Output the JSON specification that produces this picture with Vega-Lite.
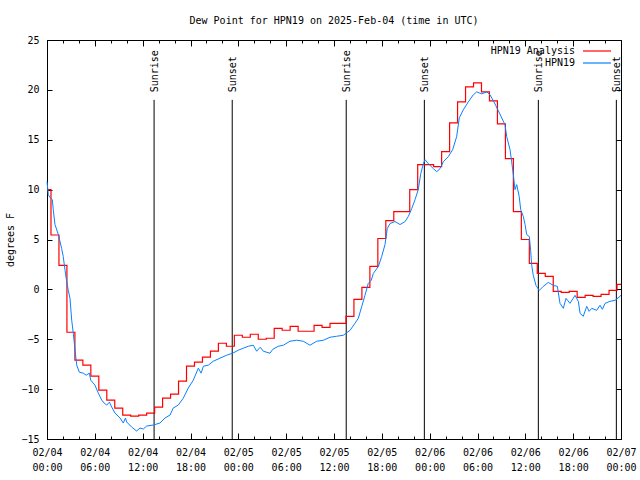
{
  "$schema": "https://vega.github.io/schema/vega-lite/v6.json",
  "width": 574,
  "height": 399,
  "autosize": "none",
  "padding": {"left": 47, "top": 40, "right": 19, "bottom": 41},
  "background": "white",
  "title": {"text": "Dew Point for HPN19 on 2025-Feb-04 (time in UTC)", "font": "DejaVu Sans Mono", "fontSize": 10, "fontWeight": "normal", "color": "black", "anchor": "middle", "offset": 9},
  "config": {
    "view": {"stroke": "black", "strokeWidth": 1},
    "axis": {"domain": false, "grid": false, "tickColor": "black", "tickWidth": 1, "labelFont": "DejaVu Sans Mono", "labelFontSize": 10, "labelColor": "black", "titleFont": "DejaVu Sans Mono", "titleFontSize": 10, "titleFontWeight": "normal", "titleColor": "black", "labelFlush": false, "labelOverlap": false, "labelBound": false}
  },
  "datasets": {
    "analysis": [
      {"t": "2025-02-04T00:00Z", "v": 10.0}, {"t": "2025-02-04T01:00Z", "v": 5.45}, {"t": "2025-02-04T02:00Z", "v": 2.4}, {"t": "2025-02-04T03:00Z", "v": -4.3},
      {"t": "2025-02-04T04:00Z", "v": -7.1}, {"t": "2025-02-04T05:00Z", "v": -7.6}, {"t": "2025-02-04T06:00Z", "v": -8.7}, {"t": "2025-02-04T07:00Z", "v": -10.1},
      {"t": "2025-02-04T08:00Z", "v": -11.1}, {"t": "2025-02-04T09:00Z", "v": -11.9}, {"t": "2025-02-04T10:00Z", "v": -12.6}, {"t": "2025-02-04T11:00Z", "v": -12.7},
      {"t": "2025-02-04T12:00Z", "v": -12.6}, {"t": "2025-02-04T13:00Z", "v": -12.4}, {"t": "2025-02-04T14:00Z", "v": -11.8}, {"t": "2025-02-04T15:00Z", "v": -10.9},
      {"t": "2025-02-04T16:00Z", "v": -10.5}, {"t": "2025-02-04T17:00Z", "v": -9.2}, {"t": "2025-02-04T18:00Z", "v": -7.7}, {"t": "2025-02-04T19:00Z", "v": -7.3},
      {"t": "2025-02-04T20:00Z", "v": -6.8}, {"t": "2025-02-04T21:00Z", "v": -6.2}, {"t": "2025-02-04T22:00Z", "v": -5.4}, {"t": "2025-02-04T23:00Z", "v": -5.7},
      {"t": "2025-02-05T00:00Z", "v": -4.6}, {"t": "2025-02-05T01:00Z", "v": -4.8}, {"t": "2025-02-05T02:00Z", "v": -4.5}, {"t": "2025-02-05T03:00Z", "v": -5.0},
      {"t": "2025-02-05T04:00Z", "v": -4.9}, {"t": "2025-02-05T05:00Z", "v": -3.9}, {"t": "2025-02-05T06:00Z", "v": -4.1}, {"t": "2025-02-05T07:00Z", "v": -3.7},
      {"t": "2025-02-05T08:00Z", "v": -4.2}, {"t": "2025-02-05T09:00Z", "v": -4.2}, {"t": "2025-02-05T10:00Z", "v": -3.6}, {"t": "2025-02-05T11:00Z", "v": -3.8},
      {"t": "2025-02-05T12:00Z", "v": -3.4}, {"t": "2025-02-05T13:00Z", "v": -3.4}, {"t": "2025-02-05T14:00Z", "v": -2.7}, {"t": "2025-02-05T15:00Z", "v": -1.0},
      {"t": "2025-02-05T16:00Z", "v": 0.2}, {"t": "2025-02-05T17:00Z", "v": 2.3}, {"t": "2025-02-05T18:00Z", "v": 5.1}, {"t": "2025-02-05T19:00Z", "v": 6.9},
      {"t": "2025-02-05T20:00Z", "v": 7.8}, {"t": "2025-02-05T21:00Z", "v": 7.8}, {"t": "2025-02-05T22:00Z", "v": 10.0}, {"t": "2025-02-05T23:00Z", "v": 12.5},
      {"t": "2025-02-06T00:00Z", "v": 12.5}, {"t": "2025-02-06T01:00Z", "v": 12.3}, {"t": "2025-02-06T02:00Z", "v": 13.8}, {"t": "2025-02-06T03:00Z", "v": 16.7},
      {"t": "2025-02-06T04:00Z", "v": 18.8}, {"t": "2025-02-06T05:00Z", "v": 20.3}, {"t": "2025-02-06T06:00Z", "v": 20.7}, {"t": "2025-02-06T07:00Z", "v": 19.8},
      {"t": "2025-02-06T08:00Z", "v": 18.9}, {"t": "2025-02-06T09:00Z", "v": 16.6}, {"t": "2025-02-06T10:00Z", "v": 13.1}, {"t": "2025-02-06T11:00Z", "v": 7.8},
      {"t": "2025-02-06T12:00Z", "v": 5.0}, {"t": "2025-02-06T13:00Z", "v": 2.6}, {"t": "2025-02-06T14:00Z", "v": 1.6}, {"t": "2025-02-06T15:00Z", "v": 1.3},
      {"t": "2025-02-06T16:00Z", "v": -0.2}, {"t": "2025-02-06T17:00Z", "v": -0.3}, {"t": "2025-02-06T18:00Z", "v": -0.2}, {"t": "2025-02-06T19:00Z", "v": -0.8},
      {"t": "2025-02-06T20:00Z", "v": -0.6}, {"t": "2025-02-06T21:00Z", "v": -0.7}, {"t": "2025-02-06T22:00Z", "v": -0.5}, {"t": "2025-02-06T23:00Z", "v": -0.1},
      {"t": "2025-02-07T00:00Z", "v": 0.5}
    ],
    "obs": [
      {"t": "2025-02-04T00:00Z", "v": 10.8}, {"t": "2025-02-04T00:10Z", "v": 9.5}, {"t": "2025-02-04T00:23Z", "v": 9.2}, {"t": "2025-02-04T00:40Z", "v": 9.0},
      {"t": "2025-02-04T00:47Z", "v": 8.0}, {"t": "2025-02-04T01:00Z", "v": 6.5}, {"t": "2025-02-04T01:25Z", "v": 5.5}, {"t": "2025-02-04T01:38Z", "v": 4.8},
      {"t": "2025-02-04T01:50Z", "v": 4.1}, {"t": "2025-02-04T02:02Z", "v": 3.3}, {"t": "2025-02-04T02:16Z", "v": 1.9}, {"t": "2025-02-04T02:28Z", "v": 0.8},
      {"t": "2025-02-04T02:40Z", "v": -0.1}, {"t": "2025-02-04T02:53Z", "v": -0.9}, {"t": "2025-02-04T03:06Z", "v": -3.1}, {"t": "2025-02-04T03:18Z", "v": -4.4},
      {"t": "2025-02-04T03:31Z", "v": -6.1}, {"t": "2025-02-04T03:44Z", "v": -7.6}, {"t": "2025-02-04T04:03Z", "v": -8.3}, {"t": "2025-02-04T04:33Z", "v": -8.4},
      {"t": "2025-02-04T04:55Z", "v": -8.6}, {"t": "2025-02-04T05:19Z", "v": -8.4}, {"t": "2025-02-04T05:29Z", "v": -9.1}, {"t": "2025-02-04T06:01Z", "v": -9.6},
      {"t": "2025-02-04T06:26Z", "v": -10.4}, {"t": "2025-02-04T06:52Z", "v": -11.1}, {"t": "2025-02-04T07:10Z", "v": -11.4}, {"t": "2025-02-04T07:29Z", "v": -11.6},
      {"t": "2025-02-04T07:50Z", "v": -11.3}, {"t": "2025-02-04T08:07Z", "v": -11.8}, {"t": "2025-02-04T08:32Z", "v": -12.4}, {"t": "2025-02-04T09:10Z", "v": -12.9},
      {"t": "2025-02-04T09:34Z", "v": -13.4}, {"t": "2025-02-04T09:50Z", "v": -12.9}, {"t": "2025-02-04T10:00Z", "v": -13.3}, {"t": "2025-02-04T10:37Z", "v": -13.8},
      {"t": "2025-02-04T11:15Z", "v": -14.2}, {"t": "2025-02-04T11:40Z", "v": -13.9}, {"t": "2025-02-04T12:05Z", "v": -14.0}, {"t": "2025-02-04T12:30Z", "v": -13.7},
      {"t": "2025-02-04T13:20Z", "v": -13.6}, {"t": "2025-02-04T14:10Z", "v": -13.4}, {"t": "2025-02-04T14:48Z", "v": -12.9}, {"t": "2025-02-04T15:26Z", "v": -12.6},
      {"t": "2025-02-04T15:50Z", "v": -11.9}, {"t": "2025-02-04T16:28Z", "v": -11.6}, {"t": "2025-02-04T17:06Z", "v": -10.9}, {"t": "2025-02-04T17:43Z", "v": -9.9},
      {"t": "2025-02-04T18:21Z", "v": -9.1}, {"t": "2025-02-04T18:59Z", "v": -7.9}, {"t": "2025-02-04T19:20Z", "v": -8.4}, {"t": "2025-02-04T19:37Z", "v": -7.7},
      {"t": "2025-02-04T20:14Z", "v": -7.6}, {"t": "2025-02-04T20:52Z", "v": -7.2}, {"t": "2025-02-04T21:42Z", "v": -6.9}, {"t": "2025-02-04T22:32Z", "v": -6.6},
      {"t": "2025-02-04T23:17Z", "v": -6.4}, {"t": "2025-02-05T00:00Z", "v": -6.1}, {"t": "2025-02-05T00:37Z", "v": -5.9}, {"t": "2025-02-05T01:15Z", "v": -5.7},
      {"t": "2025-02-05T01:53Z", "v": -5.6}, {"t": "2025-02-05T02:18Z", "v": -6.2}, {"t": "2025-02-05T02:45Z", "v": -5.8}, {"t": "2025-02-05T03:08Z", "v": -6.2},
      {"t": "2025-02-05T03:58Z", "v": -6.4}, {"t": "2025-02-05T04:20Z", "v": -6.0}, {"t": "2025-02-05T05:01Z", "v": -5.7}, {"t": "2025-02-05T05:38Z", "v": -5.6},
      {"t": "2025-02-05T06:29Z", "v": -5.2}, {"t": "2025-02-05T07:19Z", "v": -5.1}, {"t": "2025-02-05T08:09Z", "v": -5.2}, {"t": "2025-02-05T08:59Z", "v": -5.6},
      {"t": "2025-02-05T09:50Z", "v": -5.2}, {"t": "2025-02-05T10:40Z", "v": -5.1}, {"t": "2025-02-05T11:30Z", "v": -4.8}, {"t": "2025-02-05T12:20Z", "v": -4.7},
      {"t": "2025-02-05T13:10Z", "v": -4.6}, {"t": "2025-02-05T14:01Z", "v": -4.1}, {"t": "2025-02-05T14:38Z", "v": -3.4}, {"t": "2025-02-05T15:03Z", "v": -2.9},
      {"t": "2025-02-05T15:29Z", "v": -1.7}, {"t": "2025-02-05T15:53Z", "v": -0.6}, {"t": "2025-02-05T16:18Z", "v": 0.6}, {"t": "2025-02-05T16:40Z", "v": 0.9},
      {"t": "2025-02-05T16:56Z", "v": 1.6}, {"t": "2025-02-05T17:34Z", "v": 2.3}, {"t": "2025-02-05T17:59Z", "v": 3.3}, {"t": "2025-02-05T18:24Z", "v": 4.5},
      {"t": "2025-02-05T18:41Z", "v": 6.1}, {"t": "2025-02-05T19:02Z", "v": 6.6}, {"t": "2025-02-05T19:39Z", "v": 6.8}, {"t": "2025-02-05T20:17Z", "v": 6.5},
      {"t": "2025-02-05T20:55Z", "v": 6.8}, {"t": "2025-02-05T21:19Z", "v": 7.3}, {"t": "2025-02-05T21:45Z", "v": 8.1}, {"t": "2025-02-05T22:10Z", "v": 9.0},
      {"t": "2025-02-05T22:34Z", "v": 10.0}, {"t": "2025-02-05T22:53Z", "v": 11.6}, {"t": "2025-02-05T23:12Z", "v": 12.6}, {"t": "2025-02-05T23:25Z", "v": 13.0},
      {"t": "2025-02-05T23:50Z", "v": 12.6}, {"t": "2025-02-06T00:28Z", "v": 12.1}, {"t": "2025-02-06T00:53Z", "v": 11.8}, {"t": "2025-02-06T01:18Z", "v": 12.1},
      {"t": "2025-02-06T01:43Z", "v": 12.8}, {"t": "2025-02-06T02:20Z", "v": 13.3}, {"t": "2025-02-06T02:53Z", "v": 14.0}, {"t": "2025-02-06T03:23Z", "v": 15.3},
      {"t": "2025-02-06T03:43Z", "v": 17.2}, {"t": "2025-02-06T04:13Z", "v": 18.0}, {"t": "2025-02-06T04:51Z", "v": 18.8}, {"t": "2025-02-06T05:28Z", "v": 19.5},
      {"t": "2025-02-06T05:54Z", "v": 19.8}, {"t": "2025-02-06T06:32Z", "v": 19.6}, {"t": "2025-02-06T07:10Z", "v": 19.8}, {"t": "2025-02-06T07:34Z", "v": 19.5},
      {"t": "2025-02-06T08:04Z", "v": 18.8}, {"t": "2025-02-06T08:37Z", "v": 17.9}, {"t": "2025-02-06T09:27Z", "v": 16.5}, {"t": "2025-02-06T09:40Z", "v": 15.3},
      {"t": "2025-02-06T10:05Z", "v": 14.0}, {"t": "2025-02-06T10:17Z", "v": 12.8}, {"t": "2025-02-06T10:29Z", "v": 11.6}, {"t": "2025-02-06T10:42Z", "v": 10.0},
      {"t": "2025-02-06T10:55Z", "v": 10.5}, {"t": "2025-02-06T11:14Z", "v": 9.3}, {"t": "2025-02-06T11:25Z", "v": 8.0}, {"t": "2025-02-06T11:45Z", "v": 7.3},
      {"t": "2025-02-06T11:58Z", "v": 6.5}, {"t": "2025-02-06T12:10Z", "v": 5.5}, {"t": "2025-02-06T12:30Z", "v": 5.3}, {"t": "2025-02-06T12:40Z", "v": 3.9},
      {"t": "2025-02-06T12:48Z", "v": 2.4}, {"t": "2025-02-06T13:00Z", "v": 1.4}, {"t": "2025-02-06T13:20Z", "v": 0.4}, {"t": "2025-02-06T13:45Z", "v": -0.1},
      {"t": "2025-02-06T14:15Z", "v": 0.3}, {"t": "2025-02-06T14:53Z", "v": 0.7}, {"t": "2025-02-06T15:31Z", "v": 0.4}, {"t": "2025-02-06T16:01Z", "v": 0.3},
      {"t": "2025-02-06T16:21Z", "v": -1.4}, {"t": "2025-02-06T16:46Z", "v": -1.9}, {"t": "2025-02-06T17:06Z", "v": -0.9}, {"t": "2025-02-06T17:36Z", "v": -1.4},
      {"t": "2025-02-06T18:14Z", "v": -0.6}, {"t": "2025-02-06T18:39Z", "v": -1.2}, {"t": "2025-02-06T18:52Z", "v": -2.4}, {"t": "2025-02-06T19:16Z", "v": -2.7},
      {"t": "2025-02-06T19:42Z", "v": -1.7}, {"t": "2025-02-06T20:00Z", "v": -2.2}, {"t": "2025-02-06T20:20Z", "v": -1.9}, {"t": "2025-02-06T20:57Z", "v": -2.1},
      {"t": "2025-02-06T21:22Z", "v": -1.6}, {"t": "2025-02-06T21:40Z", "v": -2.0}, {"t": "2025-02-06T22:00Z", "v": -1.4}, {"t": "2025-02-06T22:37Z", "v": -1.2},
      {"t": "2025-02-06T23:15Z", "v": -1.1}, {"t": "2025-02-06T23:52Z", "v": -0.7}, {"t": "2025-02-07T00:00Z", "v": -0.6}
    ],
    "sun": [
      {"t": "2025-02-04T13:26Z", "label": "Sunrise"},
      {"t": "2025-02-04T23:14Z", "label": "Sunset"},
      {"t": "2025-02-05T13:32Z", "label": "Sunrise"},
      {"t": "2025-02-05T23:20Z", "label": "Sunset"},
      {"t": "2025-02-06T13:38Z", "label": "Sunrise"},
      {"t": "2025-02-06T23:25Z", "label": "Sunset"}
    ]
  },
  "resolve": {"axis": {"x": "independent", "y": "independent"}},
  "layer": [
    {
      "data": {"name": "sun"},
      "mark": {"type": "rule", "color": "black", "strokeWidth": 1},
      "encoding": {
        "x": {"field": "t", "type": "temporal",
              "scale": {"type": "utc", "domain": [1738627200000, 1738886400000]},
              "axis": {"orient": "bottom", "offset": -3, "tickSize": 3, "labels": false, "title": null, "values": [1738627200000, 1738634400000, 1738641600000, 1738648800000, 1738656000000, 1738663200000, 1738670400000, 1738677600000, 1738684800000, 1738692000000, 1738699200000, 1738706400000, 1738713600000, 1738720800000, 1738728000000, 1738735200000, 1738742400000, 1738749600000, 1738756800000, 1738764000000, 1738771200000, 1738778400000, 1738785600000, 1738792800000, 1738800000000, 1738807200000, 1738814400000, 1738821600000, 1738828800000, 1738836000000, 1738843200000, 1738850400000, 1738857600000, 1738864800000, 1738872000000, 1738879200000, 1738886400000]}},
        "y": {"datum": 19, "type": "quantitative", "scale": {"domain": [-15, 25], "nice": false, "zero": false}, "axis": null},
        "y2": {"datum": -15}
      }
    },
    {
      "data": {"name": "sun"},
      "mark": {"type": "text", "angle": 270, "align": "left", "baseline": "middle", "font": "DejaVu Sans Mono", "fontSize": 10, "color": "black", "dy": 1},
      "encoding": {
        "x": {"field": "t", "type": "temporal",
              "axis": {"orient": "top", "offset": -3, "tickSize": 3, "labels": false, "title": null, "values": [1738627200000, 1738634400000, 1738641600000, 1738648800000, 1738656000000, 1738663200000, 1738670400000, 1738677600000, 1738684800000, 1738692000000, 1738699200000, 1738706400000, 1738713600000, 1738720800000, 1738728000000, 1738735200000, 1738742400000, 1738749600000, 1738756800000, 1738764000000, 1738771200000, 1738778400000, 1738785600000, 1738792800000, 1738800000000, 1738807200000, 1738814400000, 1738821600000, 1738828800000, 1738836000000, 1738843200000, 1738850400000, 1738857600000, 1738864800000, 1738872000000, 1738879200000, 1738886400000]}},
        "y": {"datum": 19.75, "type": "quantitative", "axis": null},
        "text": {"field": "label"}
      }
    },
    {
      "data": {"name": "analysis"},
      "mark": {"type": "line", "interpolate": "step", "strokeWidth": 1.2},
      "encoding": {
        "x": {"field": "t", "type": "temporal",
              "axis": {"orient": "bottom", "offset": -6, "tickSize": 6, "labelPadding": 8, "title": null,
                       "values": [1738627200000, 1738648800000, 1738670400000, 1738692000000, 1738713600000, 1738735200000, 1738756800000, 1738778400000, 1738800000000, 1738821600000, 1738843200000, 1738864800000, 1738886400000],
                       "labelExpr": "[utcFormat(datum.value, '%m/%d'), utcFormat(datum.value, '%H:%M')]", "labelLineHeight": 15}},
        "y": {"field": "v", "type": "quantitative",
              "axis": {"orient": "left", "offset": -5, "tickSize": 5, "labelPadding": 8, "values": [-15, -10, -5, 0, 5, 10, 15, 20, 25],
                       "title": "degrees F", "titleX": -42, "titleY": 199.5, "titleBaseline": "middle", "titleAlign": "center"}},
        "color": {"datum": "HPN19 Analysis", "type": "nominal",
                  "scale": {"domain": ["HPN19 Analysis", "HPN19"], "range": ["#ff0000", "#0a80ff"]},
                  "legend": {"orient": "none", "legendX": 543, "legendY": 4, "title": null, "padding": 0, "symbolType": "M-2.333,0H2.333", "symbolSize": 144, "symbolStrokeWidth": 1.2,
                             "rowPadding": 0, "labelAlign": "right", "labelOffset": -29, "labelFont": "DejaVu Sans Mono", "labelFontSize": 10, "labelColor": "black", "labelLimit": 0}}
      }
    },
    {
      "data": {"name": "obs"},
      "mark": {"type": "line", "strokeWidth": 1},
      "encoding": {
        "x": {"field": "t", "type": "temporal",
              "axis": {"orient": "top", "offset": -6, "tickSize": 6, "labels": false, "title": null,
                       "values": [1738627200000, 1738648800000, 1738670400000, 1738692000000, 1738713600000, 1738735200000, 1738756800000, 1738778400000, 1738800000000, 1738821600000, 1738843200000, 1738864800000, 1738886400000]}},
        "y": {"field": "v", "type": "quantitative",
              "axis": {"orient": "right", "offset": -5, "tickSize": 5, "labels": false, "title": null, "values": [-15, -10, -5, 0, 5, 10, 15, 20, 25]}},
        "color": {"datum": "HPN19", "type": "nominal"}
      }
    }
  ]
}
